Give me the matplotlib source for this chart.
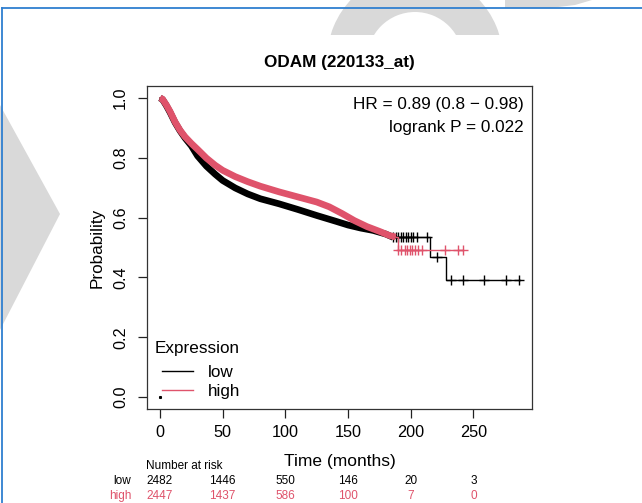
import matplotlib
matplotlib.use("Agg")
import matplotlib.pyplot as plt
import numpy as np
from matplotlib.lines import Line2D
from matplotlib.patches import Polygon, Wedge, Rectangle
from matplotlib.transforms import Affine2D

plt.rcParams['font.family'] = ['Liberation Sans', 'DejaVu Sans']

# ---------------- data ----------------
title = "ODAM (220133_at)"
group_labels = ["low", "high"]
legend_title = "Expression"
low_color = "black"
high_color = "#DF536B"

# densely censored early part of the Kaplan-Meier curves (months, survival)
low_t = [0, 2, 5, 8, 12, 16, 20, 25, 30, 37, 44, 50, 60, 70, 80, 95, 110, 125, 140, 150, 160, 170, 180, 186]
low_s = [1.0, 0.995, 0.975, 0.952, 0.918, 0.89, 0.866, 0.84, 0.806, 0.772, 0.745, 0.724, 0.699, 0.679,
         0.663, 0.646, 0.627, 0.607, 0.588, 0.575, 0.565, 0.557, 0.545, 0.534]
high_t = [0, 2, 5, 8, 12, 16, 20, 25, 30, 37, 44, 50, 60, 70, 80, 95, 110, 125, 135, 145, 155, 165, 175, 183, 188]
high_s = [1.0, 0.996, 0.977, 0.955, 0.92, 0.892, 0.87, 0.848, 0.828, 0.799, 0.775, 0.758, 0.737, 0.72,
          0.705, 0.686, 0.669, 0.652, 0.636, 0.614, 0.59, 0.57, 0.554, 0.54, 0.535]

# late step part
low_step_t = [186, 215, 228, 287]
low_step_s = [0.534, 0.468, 0.392, 0.392]
high_step_t = [188, 190, 242]
high_step_s = [0.535, 0.493, 0.493]

# censoring marks in the late part (months)
low_cens_t = [186, 188, 190, 192, 194, 196, 198, 200, 202, 205, 213, 221, 232, 242, 258, 276, 286]
high_cens_t = [190, 192, 195, 197, 199, 201, 203, 206, 209, 227, 238, 242]

hr_lines = ["HR = 0.89 (0.8 \u2212 0.98)", "logrank P = 0.022"]
xlabel = "Time (months)"
ylabel = "Probability"
xticks = [0, 50, 100, 150, 200, 250]
yticks = [0.0, 0.2, 0.4, 0.6, 0.8, 1.0]

risk_title = "Number at risk"
risk_times = [0, 50, 100, 150, 200, 250]
risk_low = [2482, 1446, 550, 146, 20, 3]
risk_high = [2447, 1437, 586, 100, 7, 0]

# ---------------- figure ----------------
W, H = 642, 503
fig = plt.figure(figsize=(W / 100, H / 100), dpi=100)
fig.patch.set_facecolor("white")

# pixel (top-left origin) -> figure transform
ptr = Affine2D().scale(1, -1).translate(0, H).scale(1 / W, 1 / H) + fig.transFigure

# faint watermark shapes of the screenshot
wm = "#d9d9d9"
fig.patches.append(Polygon([(0, 105), (60, 214), (0, 330)], closed=True, transform=ptr,
                           facecolor=wm, edgecolor="none", zorder=0))
arch = Wedge((415, 60), 88, 0, 360, width=40, transform=ptr, facecolor=wm, edgecolor="none", zorder=0)
fig.patches.append(arch)
arch.set_clip_path(Rectangle((0, 0), W, 35, transform=ptr))
fig.patches.append(Polygon([(505, 0), (592, 0), (575, 5), (550, 8), (505, 8)], closed=True,
                           transform=ptr, facecolor=wm, edgecolor="none", zorder=0))

# blue frame of the screenshot
fig.add_artist(Line2D([2, W], [8, 8], color="#2f7fd0", lw=1.3, transform=ptr))
fig.add_artist(Line2D([2, 2], [8, H], color="#2f7fd0", lw=1.3, transform=ptr))

ax_l, ax_r, ax_t, ax_b = 146.7, 532.3, 86.0, 409.0
ax = fig.add_axes([ax_l / W, 1 - ax_b / H, (ax_r - ax_l) / W, (ax_b - ax_t) / H])
ax.set_xlim(-10.6, 296.9)
ax.set_ylim(-0.04, 1.04)


def step_at(ts, ss, c):
    idx = max(i for i, t in enumerate(ts) if t <= c)
    return ss[idx]


for t, s, st, ss, ct, col, z in [
    (low_t, low_s, low_step_t, low_step_s, low_cens_t, low_color, 2),
    (high_t, high_s, high_step_t, high_step_s, high_cens_t, high_color, 3),
]:
    # thick band: dense censoring marks along the curve
    ax.plot(t, s, color=col, lw=4.8, solid_capstyle="butt", zorder=z)
    ax.plot(t, s, color=col, lw=1.0, zorder=z)
    ax.step(st, ss, where="post", color=col, lw=1.0, zorder=z)
    cy = [step_at(st, ss, c) for c in ct]
    ax.plot(ct, cy, ls="none", marker="+", ms=7, mew=1.0, color=col, zorder=z)

# tiny dot at the origin
ax.plot([0], [0], ls="none", marker="s", ms=1.2, color="black")

ax.set_xticks(xticks)
ax.set_yticks(yticks)
ax.set_xticklabels([f"{v:g}" for v in xticks], fontsize=11.7)
ax.set_yticklabels([f"{v:.1f}" for v in yticks], fontsize=11.7, rotation=90, va="center")
ax.tick_params(axis="both", direction="out", length=6.5, width=0.9, color="#222222")
ax.tick_params(axis="x", pad=5)
ax.tick_params(axis="y", pad=7)
for sp in ax.spines.values():
    sp.set_linewidth(0.9)
    sp.set_color("#333333")

ax.set_xlabel(xlabel, fontsize=12.5, labelpad=10)
ax.set_ylabel(ylabel, fontsize=12.3, labelpad=6)
ax.set_title(title, fontsize=12.3, fontweight="bold", pad=14)

ax.text(0.978, 0.943, hr_lines[0], transform=ax.transAxes, ha="right", va="center", fontsize=12.3)
ax.text(0.978, 0.872, hr_lines[1], transform=ax.transAxes, ha="right", va="center", fontsize=12.3)

# legend
ax.text(0.0215, 0.188, legend_title, transform=ax.transAxes, ha="left", va="center", fontsize=12.3)
handles = [Line2D([], [], color=low_color, lw=1.0), Line2D([], [], color=high_color, lw=1.0)]
ax.legend(handles, group_labels, loc="lower left", bbox_to_anchor=(0.04, 0.03), frameon=False,
          fontsize=12.3, handlelength=1.8, handletextpad=0.85, labelspacing=0.24,
          borderpad=0, borderaxespad=0)

# number at risk table
tb_top = 452.0
tax = fig.add_axes([ax_l / W, 0, (ax_r - ax_l) / W, (H - tb_top) / H])
tax.set_xlim(ax.get_xlim())
tax.set_ylim(H, tb_top)
tax.axis("off")
tax.text(-11, 466, risk_title, ha="left", va="center", fontsize=8.5)
for row_y, lab, vals, col in [(481, "low", risk_low, low_color), (496, "high", risk_high, high_color)]:
    tax.text(-23, row_y, lab, ha="right", va="center", fontsize=8.5, color=col, clip_on=False)
    for tt, v in zip(risk_times, vals):
        tax.text(tt, row_y, str(v), ha="center", va="center", fontsize=8.5, color=col, clip_on=False)

fig.savefig("out.png", dpi=100)
